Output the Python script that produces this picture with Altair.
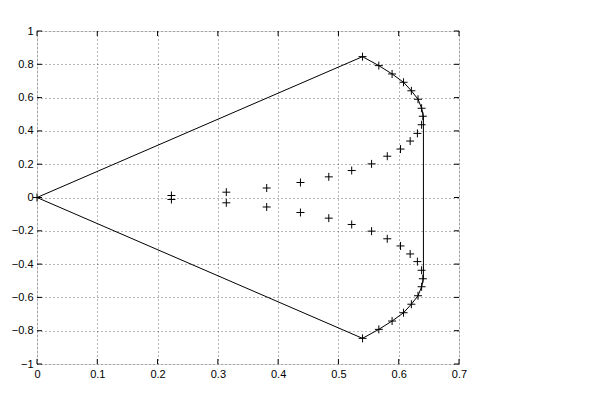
import altair as alt
import pandas as pd

# Outline path (upper half, then lower half mirrored)
path_x = [0.0, 0.540, 0.567, 0.589, 0.608, 0.621, 0.632, 0.638, 0.641,
          0.641, 0.638, 0.632, 0.621, 0.608, 0.589, 0.567, 0.540, 0.0]
path_y = [0.0, 0.846, 0.792, 0.742, 0.692, 0.641, 0.590, 0.536, 0.49,
          -0.49, -0.536, -0.590, -0.641, -0.692, -0.742, -0.792, -0.846, 0.0]

# Marker points
outer_x = [0.0, 0.540, 0.567, 0.589, 0.608, 0.621, 0.632, 0.638, 0.640, 0.638]
outer_y = [0.0, 0.846, 0.792, 0.742, 0.692, 0.641, 0.590, 0.536, 0.488, 0.437]
inner_x = [0.223, 0.314, 0.381, 0.437, 0.484, 0.522, 0.555, 0.581, 0.603, 0.619, 0.631]
inner_y = [0.012, 0.032, 0.057, 0.090, 0.124, 0.162, 0.202, 0.248, 0.291, 0.339, 0.385]

x_ticks = [0, 0.1, 0.2, 0.3, 0.4, 0.5, 0.6, 0.7]
y_ticks = [-1, -0.8, -0.6, -0.4, -0.2, 0, 0.2, 0.4, 0.6, 0.8, 1]

W, H = 422, 333

path_df = pd.DataFrame({"x": path_x, "y": path_y, "order": list(range(len(path_x)))})
mx = outer_x + outer_x[1:] + inner_x + inner_x
my = outer_y + [-v for v in outer_y[1:]] + inner_y + [-v for v in inner_y]
pts_df = pd.DataFrame({"x": mx, "y": my})
xt_df = pd.DataFrame({"x": x_ticks})
yt_df = pd.DataFrame({"y": y_ticks})

xscale = alt.Scale(domain=[0, 0.7], nice=False, zero=False)
yscale = alt.Scale(domain=[-1, 1], nice=False, zero=False)

common = dict(format="~g", grid=True, ticks=False, domain=False, title=None,
              labelPadding=4, labelOverlap=False, labelFlush=False, labelBound=False,
              gridColor="#666666", gridDash=[1, 3], gridWidth=1, gridOpacity=1,
              labelFont="Liberation Sans", labelFontSize=11, labelColor="black")
xaxis = alt.Axis(values=x_ticks, **common)
yaxis = alt.Axis(values=y_ticks, **common)

X = alt.X("x:Q", scale=xscale, axis=xaxis)
Y = alt.Y("y:Q", scale=yscale, axis=yaxis)

line = alt.Chart(path_df).mark_line(color="black", strokeWidth=1).encode(
    x=X, y=Y, order="order:Q",
)

pts = alt.Chart(pts_df).mark_point(
    shape="M-1,0L1,0M0,-1L0,1", size=64, filled=False, color="black",
    strokeWidth=1, opacity=1,
).encode(x=X, y=Y)

tick_len = 5
bt = alt.Chart(xt_df).mark_rule(color="black", strokeWidth=1).encode(
    x=X, y=alt.value(H), y2=alt.value(H - tick_len))
tt = alt.Chart(xt_df).mark_rule(color="black", strokeWidth=1).encode(
    x=X, y=alt.value(0), y2=alt.value(tick_len))
lt = alt.Chart(yt_df).mark_rule(color="black", strokeWidth=1).encode(
    y=Y, x=alt.value(0), x2=alt.value(tick_len))
rt = alt.Chart(yt_df).mark_rule(color="black", strokeWidth=1).encode(
    y=Y, x=alt.value(W), x2=alt.value(W - tick_len))

chart = alt.layer(line, pts, bt, tt, lt, rt).properties(
    width=W, height=H,
    autosize=alt.AutoSizeParams(type="none"),
    padding={"left": 29, "top": 23, "right": 133, "bottom": 32},
).configure_view(
    stroke="black", strokeWidth=1
).configure(background="white")

chart.save("out.html", embed_options={"renderer": "svg", "actions": False})
